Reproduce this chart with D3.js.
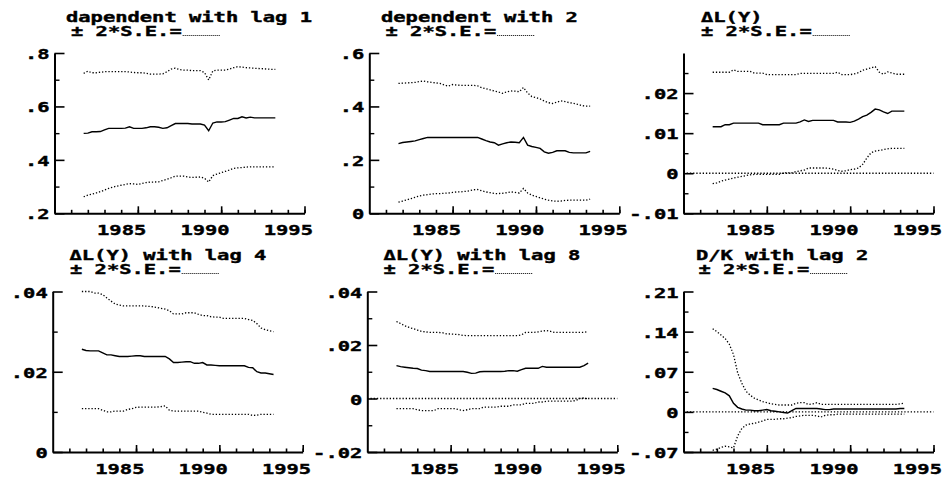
<!DOCTYPE html>
<html>
<head>
<meta charset="utf-8">
<script src="https://cdn.jsdelivr.net/npm/d3@7"></script>
<style>
  html, body { margin: 0; padding: 0; background: #fff; }
  svg { display: block; }
  text { font-family: "DejaVu Sans Mono", "Liberation Mono", monospace; font-weight: bold; font-size: 14px;
         fill: #000; stroke: #000; stroke-width: 0.4px; }
</style>
</head>
<body>
<svg id="chart" width="945" height="480"></svg>
<script>
// Quarterly sample dates of the rolling estimates
const quarters = [1982.75,
  1983.00, 1983.25, 1983.50, 1983.75, 1984.00, 1984.25, 1984.50, 1984.75,
  1985.00, 1985.25, 1985.50, 1985.75, 1986.00, 1986.25, 1986.50, 1986.75,
  1987.00, 1987.25, 1987.50, 1987.75, 1988.00, 1988.25, 1988.50, 1988.75,
  1989.00, 1989.25, 1989.50, 1989.75, 1990.00, 1990.25, 1990.50, 1990.75,
  1991.00, 1991.25, 1991.50, 1991.75, 1992.00, 1992.25, 1992.50, 1992.75,
  1993.00, 1993.25, 1993.50, 1993.75, 1994.00, 1994.25];

const titles = ["dapendent with lag 1", "dependent with 2", "ΔL(Y)",
                "ΔL(Y) with lag 4", "ΔL(Y) with lag 8", "D/K with lag 2"];
const seLabel = "± 2*S.E.=";

const yearTicks = [1982, 1983, 1984, 1985, 1986, 1987, 1988, 1989, 1990, 1991, 1992, 1993, 1994, 1995, 1996];
const longYearTicks = [1986, 1991, 1996];
const yearLabels = [1985, 1990, 1995];

// dependent with lag 1
const est1 = [.499,.500,.505,.505,.506,.512,.518,.518,.518,.518,
  .519,.524,.518,.518,.518,.520,.524,.524,.522,.518,
  .520,.528,.536,.536,.536,.536,.534,.534,.534,.530,
  .509,.538,.542,.542,.543,.549,.555,.555,.561,.557,
  .560,.557,.557,.557,.557,.557,.557];
const upper1 = [.724,.732,.726,.726,.728,.730,.730,.730,.730,.730,
  .730,.729,.727,.726,.726,.724,.721,.721,.721,.722,
  .730,.740,.743,.738,.736,.736,.734,.734,.734,.727,
  .699,.733,.736,.736,.736,.740,.745,.749,.747,.745,
  .744,.743,.742,.741,.740,.739,.739];
const lower1 = [.262,.268,.272,.276,.281,.287,.293,.298,.302,.305,
  .308,.311,.310,.308,.312,.315,.317,.317,.318,.323,
  .327,.333,.339,.339,.339,.336,.334,.335,.336,.331,
  .317,.341,.347,.352,.357,.362,.368,.370,.371,.373,
  .374,.374,.374,.374,.374,.374,.374];

// dependent with 2
const est2 = [.261,.265,.267,.269,.271,.276,.280,.284,.284,.284,
  .284,.284,.284,.284,.284,.284,.284,.284,.284,.284,
  .278,.272,.267,.264,.255,.260,.264,.267,.266,.264,
  .284,.255,.250,.247,.243,.230,.225,.228,.234,.234,
  .234,.228,.226,.226,.226,.226,.232];
const upper2 = [.486,.487,.488,.489,.490,.493,.495,.492,.490,.488,
  .486,.480,.476,.482,.480,.479,.479,.479,.479,.477,
  .470,.466,.462,.458,.454,.449,.455,.458,.457,.455,
  .471,.450,.437,.433,.428,.420,.414,.411,.416,.421,
  .418,.414,.412,.408,.403,.401,.401];
const lower2 = [.042,.046,.050,.055,.060,.065,.068,.070,.072,.074,
  .074,.075,.076,.078,.080,.080,.082,.084,.088,.089,
  .084,.080,.077,.074,.074,.075,.077,.080,.078,.076,
  .093,.076,.068,.063,.058,.053,.049,.046,.045,.046,
  .048,.049,.049,.049,.049,.049,.053];

// ΔL(Y)
const est3 = [.0116,.0116,.0116,.0121,.0121,.0125,.0125,.0125,.0125,.0125,
  .0125,.0125,.0121,.0121,.0121,.0121,.0121,.0125,.0125,.0125,
  .0125,.0128,.0133,.0129,.0132,.0132,.0132,.0132,.0132,.0132,
  .0128,.0128,.0128,.0127,.0130,.0135,.0141,.0145,.0152,.0160,
  .0158,.0153,.0149,.0155,.0155,.0155,.0155];
const upper3 = [.0252,.0252,.0252,.0252,.0252,.0258,.0254,.0254,.0254,.0254,
  .0250,.0250,.0250,.0246,.0246,.0246,.0246,.0246,.0246,.0246,
  .0246,.0249,.0249,.0249,.0249,.0249,.0249,.0249,.0249,.0249,
  .0252,.0246,.0246,.0246,.0248,.0251,.0257,.0260,.0263,.0266,
  .0252,.0247,.0253,.0250,.0247,.0247,.0247];
const lower3 = [-.0026,-.0024,-.0020,-.0017,-.0015,-.0012,-.0010,-.0008,-.0006,-.0004,
  -.0003,-.0003,-.0003,-.0003,-.0003,-.0003,-.0003,.0001,.0001,.0001,
  .0004,.0006,.0008,.0013,.0013,.0013,.0013,.0013,.0012,.0010,
  .0007,.0005,.0006,.0009,.0010,.0013,.0022,.0038,.0051,.0055,
  .0057,.0059,.0061,.0062,.0062,.0062,.0062];

// ΔL(Y) with lag 4
const est4 = [.0256,.0253,.0252,.0252,.0252,.0247,.0242,.0242,.0240,.0238,
  .0238,.0238,.0239,.0240,.0240,.0238,.0238,.0238,.0238,.0238,
  .0238,.0232,.0223,.0223,.0224,.0225,.0225,.0221,.0221,.0223,
  .0217,.0217,.0216,.0215,.0215,.0215,.0215,.0215,.0215,.0215,
  .0211,.0210,.0200,.0197,.0197,.0195,.0193];
const upper4 = [.0400,.0400,.0400,.0396,.0396,.0392,.0384,.0376,.0369,.0366,
  .0364,.0364,.0364,.0364,.0364,.0364,.0363,.0362,.0360,.0358,
  .0356,.0352,.0344,.0344,.0344,.0347,.0347,.0347,.0343,.0340,
  .0340,.0337,.0336,.0336,.0333,.0333,.0333,.0333,.0333,.0333,
  .0330,.0328,.0320,.0309,.0305,.0302,.0300];
const lower4 = [.0108,.0108,.0108,.0108,.0108,.0104,.0100,.0100,.0102,.0102,
  .0102,.0106,.0108,.0111,.0112,.0112,.0112,.0112,.0112,.0113,
  .0115,.0104,.0102,.0102,.0102,.0102,.0102,.0102,.0102,.0099,
  .0097,.0094,.0094,.0094,.0094,.0094,.0094,.0094,.0094,.0094,
  .0094,.0091,.0092,.0094,.0094,.0094,.0094];

// ΔL(Y) with lag 8
const est5 = [.0123,.0119,.0117,.0115,.0113,.0112,.0106,.0104,.0101,.0101,
  .0101,.0101,.0101,.0101,.0101,.0101,.0101,.0098,.0094,.0095,
  .0100,.0101,.0101,.0101,.0101,.0101,.0102,.0104,.0104,.0102,
  .0108,.0113,.0113,.0113,.0113,.0120,.0117,.0117,.0117,.0117,
  .0117,.0117,.0117,.0117,.0117,.0123,.0132];
const upper5 = [.0288,.0280,.0272,.0266,.0261,.0256,.0251,.0249,.0247,.0247,
  .0247,.0246,.0242,.0241,.0240,.0239,.0236,.0235,.0235,.0235,
  .0235,.0235,.0235,.0235,.0235,.0235,.0235,.0235,.0235,.0235,
  .0238,.0247,.0247,.0247,.0249,.0252,.0254,.0251,.0247,.0247,
  .0247,.0247,.0247,.0247,.0247,.0247,.0250];
const lower5 = [-.0038,-.0038,-.0038,-.0038,-.0038,-.0042,-.0045,-.0045,-.0045,-.0045,
  -.0038,-.0038,-.0038,-.0038,-.0038,-.0042,-.0045,-.0042,-.0038,-.0038,
  -.0038,-.0032,-.0032,-.0032,-.0032,-.0029,-.0029,-.0029,-.0024,-.0024,
  -.0024,-.0018,-.0018,-.0018,-.0013,-.0013,-.0010,-.0010,-.0010,-.0010,
  -.0010,-.0010,-.0010,-.0008,.0000,.0002,-.0001];

// D/K with lag 2
const est6 = [.041,.039,.036,.033,.028,.015,.008,.005,.003,.003,
  .002,.002,.003,.004,.002,.001,.000,-.001,-.002,.002,
  .006,.006,.006,.006,.006,.006,.005,.004,.004,.005,
  .005,.005,.005,.005,.005,.005,.005,.005,.005,.005,
  .005,.005,.005,.005,.005,.006,.006];
const upper6 = [.145,.140,.134,.128,.118,.100,.068,.050,.036,.029,
  .024,.021,.018,.016,.014,.013,.012,.012,.012,.012,
  .015,.016,.016,.013,.014,.016,.013,.013,.013,.013,
  .013,.013,.013,.013,.013,.013,.013,.013,.013,.013,
  .013,.013,.013,.013,.013,.014,.015];
const lower6 = [-.067,-.065,-.062,-.060,-.061,-.063,-.042,-.029,-.023,-.021,
  -.020,-.018,-.016,-.013,-.013,-.013,-.012,-.012,-.011,-.010,
  -.008,-.007,-.006,-.006,-.006,-.007,-.009,-.006,-.005,-.005,
  -.004,-.004,-.004,-.004,-.004,-.004,-.004,-.004,-.004,-.004,
  -.004,-.004,-.004,-.004,-.004,-.004,-.004];

const estimates = [est1, est2, est3, est4, est5, est6];
const uppers = [upper1, upper2, upper3, upper4, upper5, upper6];
const lowers = [lower1, lower2, lower3, lower4, lower5, lower6];

const yDomains = [[.2, .8], [0, .6], [-.01, .03], [0, .04], [-.02, .04], [-.07, .21]];
const yMajor = [[.2, .4, .6, .8], [0, .2, .4, .6], [-.01, 0, .01, .02], [0, .02, .04],
                [-.02, 0, .02, .04], [-.07, 0, .07, .14, .21]];
const yMajorLabels = [[".2", ".4", ".6", ".8"], ["0", ".2", ".4", ".6"], ["-.01", "0", ".01", ".02"],
                      ["0", ".02", ".04"], ["-.02", "0", ".02", ".04"], ["-.07", "0", ".07", ".14", ".21"]];
const yMinor = [[.3, .5, .7], [.1, .3, .5], [-.005, .005, .015, .025], [.01, .03],
                [-.01, .01, .03], [-.035, .035, .105, .175]];
const zeroLine = [false, false, true, false, true, true];

// Panel placement on the page
const layout = [
  { x: 54.5,  top: 53,    bottom: 213.3, titleX: 66,    seX: 71,    titleY: 21.5 },
  { x: 369.3, top: 53,    bottom: 213.3, titleX: 381,   seX: 385.5, titleY: 21.5 },
  { x: 683.5, top: 53,    bottom: 213.3, titleX: 701,   seX: 701,   titleY: 21.5 },
  { x: 52.7,  top: 291.5, bottom: 452,   titleX: 69.5,  seX: 70,    titleY: 259.5 },
  { x: 367.3, top: 291.5, bottom: 452,   titleX: 383.5, seX: 383.5, titleY: 259.5 },
  { x: 683.5, top: 291.5, bottom: 452,   titleX: 696,   seX: 698.5, titleY: 259.5 }
];
const plotW = 250;
const charW = 12.3;   // wide fixed-pitch lettering
const dots = "1.3,1.9";

const svg = d3.select("#chart");

function widen(sel) {
  sel.each(function () {
    const n = Array.from(this.textContent).length;
    d3.select(this).attr("textLength", n * charW).attr("lengthAdjust", "spacingAndGlyphs");
  });
}

layout.forEach((L, i) => {
  // Titles
  svg.append("text").attr("x", L.titleX).attr("y", L.titleY).text(titles[i]).call(widen);
  const seY = L.titleY + 14.5;
  svg.append("text").attr("x", L.seX).attr("y", seY).text(seLabel).call(widen);
  const sx = L.seX + Array.from(seLabel).length * charW + 1;
  svg.append("line").attr("x1", sx).attr("x2", sx + 38).attr("y1", seY - 0.5).attr("y2", seY - 0.5)
    .attr("stroke", "#000").attr("stroke-width", 1).attr("stroke-dasharray", "1,1");

  const g = svg.append("g").attr("transform", `translate(${L.x},0)`);
  const x = d3.scaleLinear().domain([1981, 1996]).range([0, plotW]);
  const y = d3.scaleLinear().domain(yDomains[i]).range([L.bottom, L.top]);

  // Y axis: major ticks pointing inward with labels, minor ticks shorter
  const ya = g.append("g").call(
    d3.axisLeft(y).tickValues(yMajor[i]).tickFormat((d, j) => yMajorLabels[i][j])
      .tickSizeInner(-10).tickSizeOuter(0).tickPadding(5));
  ya.select(".domain").attr("stroke-width", 2);
  ya.selectAll(".tick line").attr("stroke-width", 1.6);
  ya.selectAll(".tick text").attr("dy", 5.5).call(widen);

  const ym = g.append("g").call(
    d3.axisLeft(y).tickValues(yMinor[i]).tickFormat("").tickSizeInner(-5).tickSizeOuter(0));
  ym.select(".domain").remove();
  ym.selectAll(".tick line").attr("stroke-width", 1.4);

  // X axis: yearly ticks, longer ticks closing each five-year block, year labels
  const xg = g.append("g").attr("transform", `translate(0,${L.bottom})`);
  const xa = xg.append("g").call(
    d3.axisBottom(x).tickValues(yearTicks).tickFormat("").tickSizeInner(-3.5).tickSizeOuter(0));
  xa.select(".domain").attr("stroke-width", 2);
  xa.selectAll(".tick line").attr("stroke-width", 1.6);

  const xl = xg.append("g").call(
    d3.axisBottom(x).tickValues(longYearTicks).tickFormat("").tickSizeInner(-7).tickSizeOuter(0));
  xl.select(".domain").remove();
  xl.selectAll(".tick line").attr("stroke-width", 1.6);

  const xt = xg.append("g").call(
    d3.axisBottom(x).tickValues(yearLabels).tickFormat(d3.format("d")).tickSize(0).tickPadding(12));
  xt.select(".domain").remove();
  xt.selectAll(".tick text").attr("dy", "0.71em").call(widen);

  // Zero reference
  if (zeroLine[i]) {
    g.append("path")
      .datum([1981, 1996])
      .attr("d", d3.line().x(d => x(d)).y(() => y(0)))
      .attr("fill", "none").attr("stroke", "#000").attr("stroke-width", 1.3)
      .attr("stroke-dasharray", dots);
  }

  const line = d3.line().x((d, j) => x(quarters[j])).y(d => y(d));

  [uppers[i], lowers[i]].forEach(band => {
    g.append("path").datum(band).attr("d", line)
      .attr("fill", "none").attr("stroke", "#000").attr("stroke-width", 1.3)
      .attr("stroke-dasharray", dots);
  });

  g.append("path").datum(estimates[i]).attr("d", line)
    .attr("fill", "none").attr("stroke", "#000").attr("stroke-width", 1.4);
});
</script>
</body>
</html>
